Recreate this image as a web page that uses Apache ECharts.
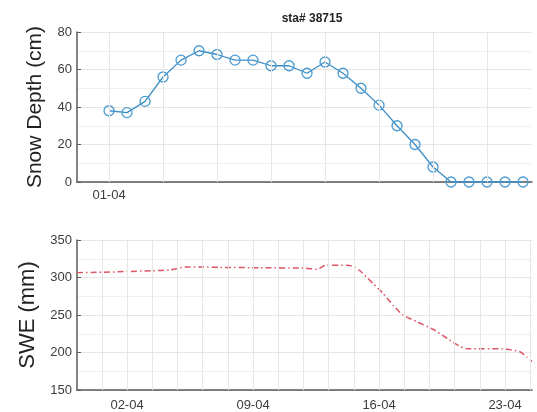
<!DOCTYPE html>
<html>
<head>
<meta charset="utf-8">
<script src="https://cdn.jsdelivr.net/npm/echarts@6/dist/echarts.min.js"></script>
<style>html,body{margin:0;padding:0;background:#fff}#c{width:537px;height:412px}</style>
</head>
<body>
<div id="c"></div>
<script>
// ---- data (x = day of April) ----
const title = 'sta# 38715';
const depthDays = [1,2,3,4,5,6,7,8,9,10,11,12,13,14,15,16,17,18,19,20,21,22,23,24];
const depthValues = [38,37,43,56,65,70,68,65,65,62,62,58,64,58,50,41,30,20,8,0,0,0,0,0];
const sweDays = [-0.78,0.61,2.0,3.39,4.39,4.78,5.22,6.06,7.17,9.39,11.89,12.56,13.0,14.22,14.56,14.94,15.67,16.22,16.78,17.33,18.11,19.0,19.78,20.5,20.89,21.78,22.89,23.83,24.22,24.5];
const sweValues = [306.5,307,308,309,310,312,314,314,313.5,313,312.5,311,316,316.5,315,309,292,279,263,250,241,231,219,208,205,205,205,201,194,188];
const topTickDays = [1];
const topGridDays = [1,4,7,10,13,16,19,22];
const bottomTickDays = [2,9,16,23];
const bottomGridDays = [0.6,2,3.4,4.8,6.2,7.6,9,10.4,11.8,13.2,14.6,16,17.4,18.8,20.2,21.6,23,24.4];
const xMin = -0.78, xMax = 24.5;

const font = 'Liberation Sans, Arial, Helvetica, sans-serif';
const gridColor = '#e6e6e6';
const axisColor = '#5a5a5a';
const labelColor = '#3c3c3c';
const fmt = v => String(Math.round(v)).padStart(2,'0') + '-04';

function xAxisCfg(gridIndex, ticks, margin){
  return {
    type:'value', gridIndex, min:xMin, max:xMax,
    axisLine:{show:true, onZero:false, lineStyle:{color:axisColor, width:1.5}},
    axisTick:{show:true, inside:true, length:4, customValues:ticks, lineStyle:{color:axisColor}},
    axisLabel:{show:true, customValues:ticks, formatter:fmt, color:labelColor, fontSize:13, fontFamily:font, margin},
    splitLine:{show:false}
  };
}
function yAxisCfg(gridIndex, min, max, interval, name, nameSize, nameGap){
  return {
    type:'value', gridIndex, min, max, interval,
    name, nameLocation:'middle', nameGap, nameRotate:90,
    nameTextStyle:{fontSize:nameSize, fontFamily:font, color:'#222'},
    axisLine:{show:true, onZero:false, lineStyle:{color:axisColor, width:1.5}},
    axisTick:{show:true, inside:true, length:4, lineStyle:{color:axisColor}},
    axisLabel:{color:labelColor, fontSize:13, fontFamily:font, margin:5},
    splitLine:{show:true, lineStyle:{color:gridColor, width:1}},
    minorTick:{show:false, splitNumber:2},
    minorSplitLine:{show:true, lineStyle:{color:'#f0f0f0', width:1}}
  };
}
function gridLines(xi, yi, days){
  return {
    type:'line', xAxisIndex:xi, yAxisIndex:yi, data:[], silent:true, z:1,
    markLine:{silent:true, symbol:'none', animation:false, label:{show:false},
      lineStyle:{color:gridColor, type:'solid', width:1},
      data: days.map(d => ({xAxis:d}))}
  };
}

const chart = echarts.init(document.getElementById('c'), null, {renderer:'canvas'});
chart.setOption({
  animation:false,
  backgroundColor:'#fff',
  title:{text:title, left:307, top:8, textAlign:'center',
    textStyle:{fontSize:12, fontWeight:'bold', fontFamily:font, color:'#222'}},
  grid:[
    {left:77, top:32, width:455, height:150},
    {left:77, top:240, width:455, height:150}
  ],
  xAxis:[ xAxisCfg(0, topTickDays, 7), xAxisCfg(1, bottomTickDays, 9) ],
  yAxis:[
    yAxisCfg(0, 0, 80, 20, 'Snow Depth (cm)', 21, 31),
    yAxisCfg(1, 150, 350, 50, 'SWE (mm)', 22, 38)
  ],
  series:[
    gridLines(0,0,topGridDays),
    gridLines(1,1,bottomGridDays),
    {
      type:'line', xAxisIndex:0, yAxisIndex:0, z:3,
      data: depthDays.map((d,i)=>[d, depthValues[i]]),
      symbol:'circle', symbolSize:10, showSymbol:true,
      itemStyle:{color:'rgba(255,255,255,0)', borderColor:'#4a9ad0', borderWidth:1.3},
      lineStyle:{color:'#3c8dc6', width:1.3}
    },
    {
      type:'line', xAxisIndex:1, yAxisIndex:1, z:3,
      data: sweDays.map((d,i)=>[d, sweValues[i]]),
      symbol:'none', smooth:0.2,
      lineStyle:{color:'#de5563', width:1.5, type:[6,3,1.5,3]}
    }
  ]
});
</script>
</body>
</html>
